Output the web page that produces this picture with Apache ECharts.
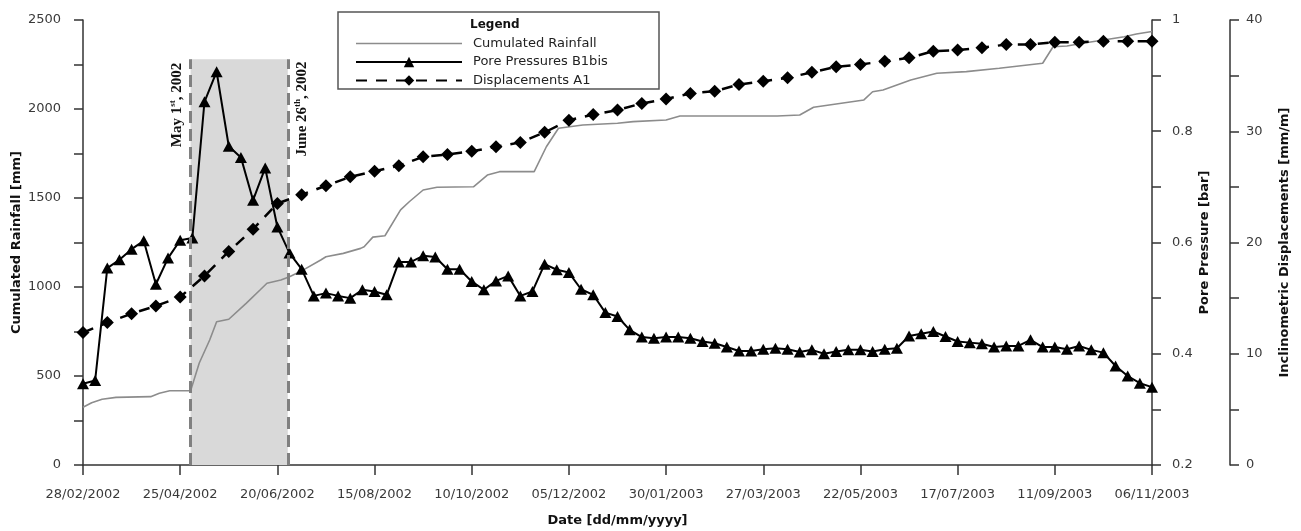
<!DOCTYPE html>
<html>
<head>
<meta charset="utf-8">
<script src="https://cdn.jsdelivr.net/npm/echarts@6/dist/echarts.min.js"></script>
<style>
html,body{margin:0;padding:0;background:#fff;}
#chart{width:1301px;height:531px;}
</style>
</head>
<body>
<div id="chart"></div>
<script>
// ---- data (x values are days since 28/02/2002) ----
const dateTickLabels = ['28/02/2002','25/04/2002','20/06/2002','15/08/2002','10/10/2002','05/12/2002',
  '30/01/2003','27/03/2003','22/05/2003','17/07/2003','11/09/2003','06/11/2003'];
const tickStepDays = 56;

const rainDays = [0,5,11,19,39,44,50,62,67,73,77,84,94,102,106,114,119,127,137,140,
  150,160,162,167,174,183,188,196,204,225,233,240,260,267,274,288,308,317,336,344,
  400,413,421,450,455,461,477,492,509,528,553,559,567,576,588,600,607,616];
const rainMm = [324,350,369,380,384,403,417,417,573,702,805,819,908,983,1021,1039,1058,1096,1152,1170,
  1189,1217,1226,1280,1288,1433,1479,1545,1560,1563,1629,1648,1648,1788,1892,1910,1920,1929,1938,1961,
  1961,1966,2010,2051,2097,2107,2163,2201,2210,2229,2257,2350,2354,2369,2388,2406,2421,2435];

const poreStepDays = 7;
const poreBar = [0.346,0.352,0.554,0.569,0.588,0.603,0.525,0.572,0.604,0.608,
  0.853,0.907,0.773,0.753,0.676,0.734,0.628,0.581,0.552,0.504,
  0.509,0.504,0.500,0.515,0.512,0.506,0.565,0.565,0.576,0.574,
  0.552,0.552,0.530,0.515,0.531,0.540,0.504,0.512,0.561,0.551,
  0.546,0.516,0.506,0.474,0.467,0.443,0.430,0.428,0.430,0.430,
  0.428,0.422,0.419,0.412,0.405,0.405,0.408,0.410,0.408,0.403,
  0.407,0.400,0.404,0.407,0.407,0.404,0.408,0.410,0.432,0.436,
  0.440,0.431,0.422,0.420,0.418,0.412,0.414,0.414,0.425,0.412,
  0.412,0.408,0.414,0.407,0.402,0.378,0.360,0.347,0.340];

const dispStepDays = 14;
const dispMmPerM = [11.9,12.8,13.6,14.3,15.1,17.0,19.2,21.2,23.5,24.3,
  25.1,25.9,26.4,26.9,27.7,27.9,28.2,28.6,29.0,29.9,
  31.0,31.5,31.9,32.5,32.9,33.4,33.6,34.2,34.5,34.8,
  35.3,35.8,36.0,36.3,36.6,37.2,37.3,37.5,37.8,37.8,
  38.0,38.0,38.1,38.1,38.1];

const periodStartDay = 62;   // May 1st, 2002
const periodEndDay = 118;    // June 26th, 2002
const periodTopMm = 2280;

const seriesNames = ['Cumulated Rainfall','Pore Pressures B1bis','Displacements A1'];

// ---- build ----
const rainData = rainDays.map((d,i)=>[d, rainMm[i]]);
const poreData = poreBar.map((v,i)=>[i*poreStepDays, v]);
const dispData = dispMmPerM.map((v,i)=>[i*dispStepDays, v]);

const tickFont = {fontFamily:'DejaVu Sans', fontSize:13, color:'#3a3a3a'};
const titleFont = {fontFamily:'DejaVu Sans', fontSize:13, fontWeight:'bold', color:'#111'};
const axisLine = {show:true, lineStyle:{color:'#333', width:1.5}};
const axisTick = {show:true, length:9, lineStyle:{color:'#333', width:1.5}};
const supStyle = {fontSize:9, fontWeight:'bold', fontFamily:'Liberation Serif', verticalAlign:'top', lineHeight:17};

const chart = echarts.init(document.getElementById('chart'));
chart.setOption({
  animation:false,
  backgroundColor:'#fff',
  grid:{left:83, right:149, top:20, bottom:66, containLabel:false, outerBoundsMode:'none'},
  xAxis:{
    type:'value', min:0, max:616, interval:tickStepDays,
    axisLine:axisLine, axisTick:Object.assign({}, axisTick, {length:10}),
    splitLine:{show:false},
    axisLabel:Object.assign({}, tickFont, {margin:23,
      formatter:v=>dateTickLabels[Math.round(v/tickStepDays)] || ''}),
    name:'Date [dd/mm/yyyy]', nameLocation:'middle', nameGap:49, nameMoveOverlap:false,
    nameTextStyle:titleFont
  },
  yAxis:[
    {type:'value', min:0, max:2500, interval:250, position:'left',
     axisLine:axisLine, axisTick:axisTick, splitLine:{show:false},
     axisLabel:Object.assign({}, tickFont, {margin:22,
       formatter:v=>(v%500===0? String(v):'')}),
     name:'Cumulated Rainfall [mm]', nameLocation:'middle', nameGap:60, nameMoveOverlap:false,
     nameTextStyle:titleFont},
    {type:'value', min:0.2, max:1, interval:0.1, position:'right',
     axisLine:axisLine, axisTick:axisTick, splitLine:{show:false},
     axisLabel:Object.assign({}, tickFont, {margin:20,
       formatter:v=>{const k=Math.round(v*10); return k%2===0 ? (k===10?'1':(k/10).toFixed(1)) : '';}}),
     name:'Pore Pressure [bar]', nameLocation:'middle', nameGap:46, nameMoveOverlap:false,
     nameTextStyle:titleFont},
    {type:'value', min:0, max:40, interval:5, position:'right', offset:78,
     axisLine:axisLine, axisTick:axisTick, splitLine:{show:false},
     axisLabel:Object.assign({}, tickFont, {margin:16,
       formatter:v=>(v%10===0? String(v):'')}),
     name:'Inclinometric Displacements [mm/m]', nameLocation:'middle', nameGap:48, nameMoveOverlap:false,
     nameTextStyle:titleFont}
  ],
  legend:{
    data:[{name:seriesNames[0], itemStyle:{color:'rgba(0,0,0,0)', borderWidth:0},
           lineStyle:{color:'#8c8c8c', width:1.6, opacity:1}},
          seriesNames[1], seriesNames[2]],
    orient:'vertical', left:350, top:32,
    itemWidth:106, itemHeight:13, itemGap:5.5,
    textStyle:{fontFamily:'DejaVu Sans', fontSize:13, color:'#222', padding:[0,0,0,6]},
    selectedMode:false
  },
  graphic:[
    {type:'rect', z:-1, shape:{x:338, y:12, width:321, height:77},
     style:{fill:'#fff', stroke:'#555', lineWidth:1.5}},
    {type:'text', left:470, top:19, style:{text:'Legend', font:'bold 12px "DejaVu Sans"', fill:'#111'}},
    {type:'text', x:177, y:105, rotation:Math.PI/2,
     style:{text:'May 1{sup|st}, 2002', align:'center', verticalAlign:'middle',
       font:'bold 15px "Liberation Serif"', fill:'#111', rich:{sup:supStyle}}},
    {type:'text', x:302, y:109, rotation:Math.PI/2,
     style:{text:'June 26{sup|th}, 2002', align:'center', verticalAlign:'middle',
       font:'bold 15px "Liberation Serif"', fill:'#111', rich:{sup:supStyle}}}
  ],
  series:[
    {name:seriesNames[0], type:'line', yAxisIndex:0, data:rainData, symbol:'none',
     lineStyle:{color:'#8c8c8c', width:1.6}, itemStyle:{color:'#8c8c8c'}, z:2,
     markArea:{silent:true, itemStyle:{color:'#d9d9d9'},
       data:[[{coord:[periodStartDay,0]},{coord:[periodEndDay,periodTopMm]}]]},
     markLine:{silent:true, symbol:'none', label:{show:false},
       lineStyle:{color:'#808080', width:3, type:[12,6]},
       data:[[{coord:[periodStartDay,0]},{coord:[periodStartDay,periodTopMm]}],
             [{coord:[periodEndDay,0]},{coord:[periodEndDay,periodTopMm]}]]}},
    {name:seriesNames[1], type:'line', yAxisIndex:1, data:poreData, symbol:'triangle', symbolSize:[12,11],
     lineStyle:{color:'#000', width:2}, itemStyle:{color:'#000'}, z:3},
    {name:seriesNames[2], type:'line', yAxisIndex:2, data:dispData, symbol:'diamond', symbolSize:[13,13],
     lineStyle:{color:'#000', width:2.5, type:[11,9]}, itemStyle:{color:'#000'}, z:4}
  ]
});
</script>
</body>
</html>
